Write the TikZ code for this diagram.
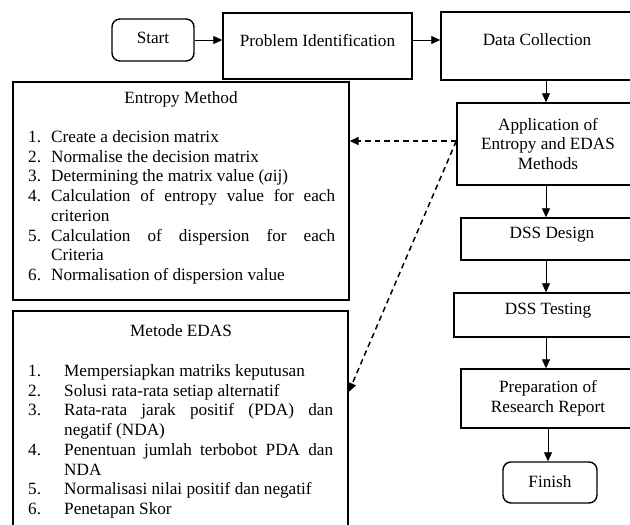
\documentclass[tikz,border=0pt]{standalone}
\usepackage{fontspec}
\setmainfont{Liberation Serif}
\usetikzlibrary{arrows.meta}
\newcommand\fsz{\fontsize{17.2}{19.7}\selectfont}
\newcommand\up[2]{\raisebox{#1pt}[\height][\depth]{#2}}
\newcommand\eit[2]{\makebox[23pt][l]{#1}#2}
\newcommand\ejust[2]{\makebox[23pt][l]{#1}\makebox[284pt][s]{#2}}
\newcommand\dit[2]{\makebox[36pt][l]{#1}#2}
\newcommand\djust[2]{\makebox[36pt][l]{#1}\makebox[269pt][s]{#2}}
\begin{document}
\begin{tikzpicture}[x=1pt,y=-1pt,
  box/.style={draw, line width=1.4pt, inner sep=0pt, align=center, font=\fsz},
  rbox/.style={box, rounded corners=8pt},
  lst/.style={anchor=north west, inner sep=0pt, align=left, font=\fsz},
  arr/.style={-{Triangle[length=9pt,width=8pt]}, line width=0.8pt},
  darr/.style={arr, dash pattern=on 5.5pt off 4pt, line width=1.5pt}]
\useasboundingbox (0,0) rectangle (630,525);
% top row
\node[rbox, minimum width=82pt, minimum height=42pt] (start) at (153,40) {\up{2}{Start}};
\node[box, minimum width=189pt, minimum height=66pt] (pi) at (317.5,46) {\up{5}{Problem Identification}};
\node[box, minimum width=192pt, minimum height=68pt] (dc) at (537,46) {\up{6}{Data Collection}};
% right column
\node[box, minimum width=182pt, minimum height=82pt] (app) at (548,144) {Application of\\Entropy and EDAS\\Methods};
\node[box, minimum width=182pt, minimum height=42pt] (design) at (552,239) {\up{4}{DSS Design}};
\node[box, minimum width=188pt, minimum height=44pt] (testing) at (548,315) {\up{4}{DSS Testing}};
\node[box, minimum width=174pt, minimum height=59pt] (prep) at (548,398.5) {Preparation of\\Research Report};
\node[rbox, minimum width=94pt, minimum height=41pt] (finish) at (550,482.5) {\up{1}{Finish}};
% left boxes
\node[box, minimum width=336pt, minimum height=218pt] (entropy) at (181,191) {};
\node[font=\fsz, inner sep=0pt] (enttitle) at (181,99) {Entropy Method};
\node[lst] (entlist) at (28,130.4) {%
\eit{1.}{Create a decision matrix}\\
\eit{2.}{Normalise the decision matrix}\\
\eit{3.}{Determining the matrix value (\textit{a}ij)}\\
\ejust{4.}{Calculation of entropy value for each}\\
\eit{}{criterion}\\
\ejust{5.}{Calculation of dispersion for each}\\
\eit{}{Criteria}\\
\eit{6.}{Normalisation of dispersion value}};
\node[box, minimum width=335pt, minimum height=224pt] (edas) at (180.5,423) {};
\node[font=\fsz, inner sep=0pt] (edastitle) at (181,331) {Metode EDAS};
\node[lst] (edaslist) at (28,364.4) {%
\dit{1.}{Mempersiapkan matriks keputusan}\\
\dit{2.}{Solusi rata-rata setiap alternatif}\\
\djust{3.}{Rata-rata jarak positif (PDA) dan}\\
\dit{}{negatif (NDA)}\\
\djust{4.}{Penentuan jumlah terbobot PDA dan}\\
\dit{}{NDA}\\
\dit{5.}{Normalisasi nilai positif dan negatif}\\
\dit{6.}{Penetapan Skor}};
% connectors
\coordinate (col) at (546,0);
\coordinate (col2) at (548,0);
\draw[arr] (start.east) -- (pi.west |- start.east);
\draw[arr] (pi.east |- start.east) -- (dc.west |- start.east);
\draw[arr] (dc.south -| col) -- (app.north -| col);
\draw[arr] (app.south -| col) -- (design.north -| col);
\draw[arr] (design.south -| col) -- (testing.north -| col);
\draw[arr] (testing.south -| col) -- (prep.north -| col);
\draw[arr] (prep.south -| col2) -- (finish.north -| col2);
\coordinate (ds) at ([yshift=3pt]app.west);
\coordinate (de) at ([yshift=31pt]edas.east);
\draw[darr] (ds) -- (ds -| entropy.east);
\draw[darr] (ds) -- (de);
\end{tikzpicture}
\end{document}
